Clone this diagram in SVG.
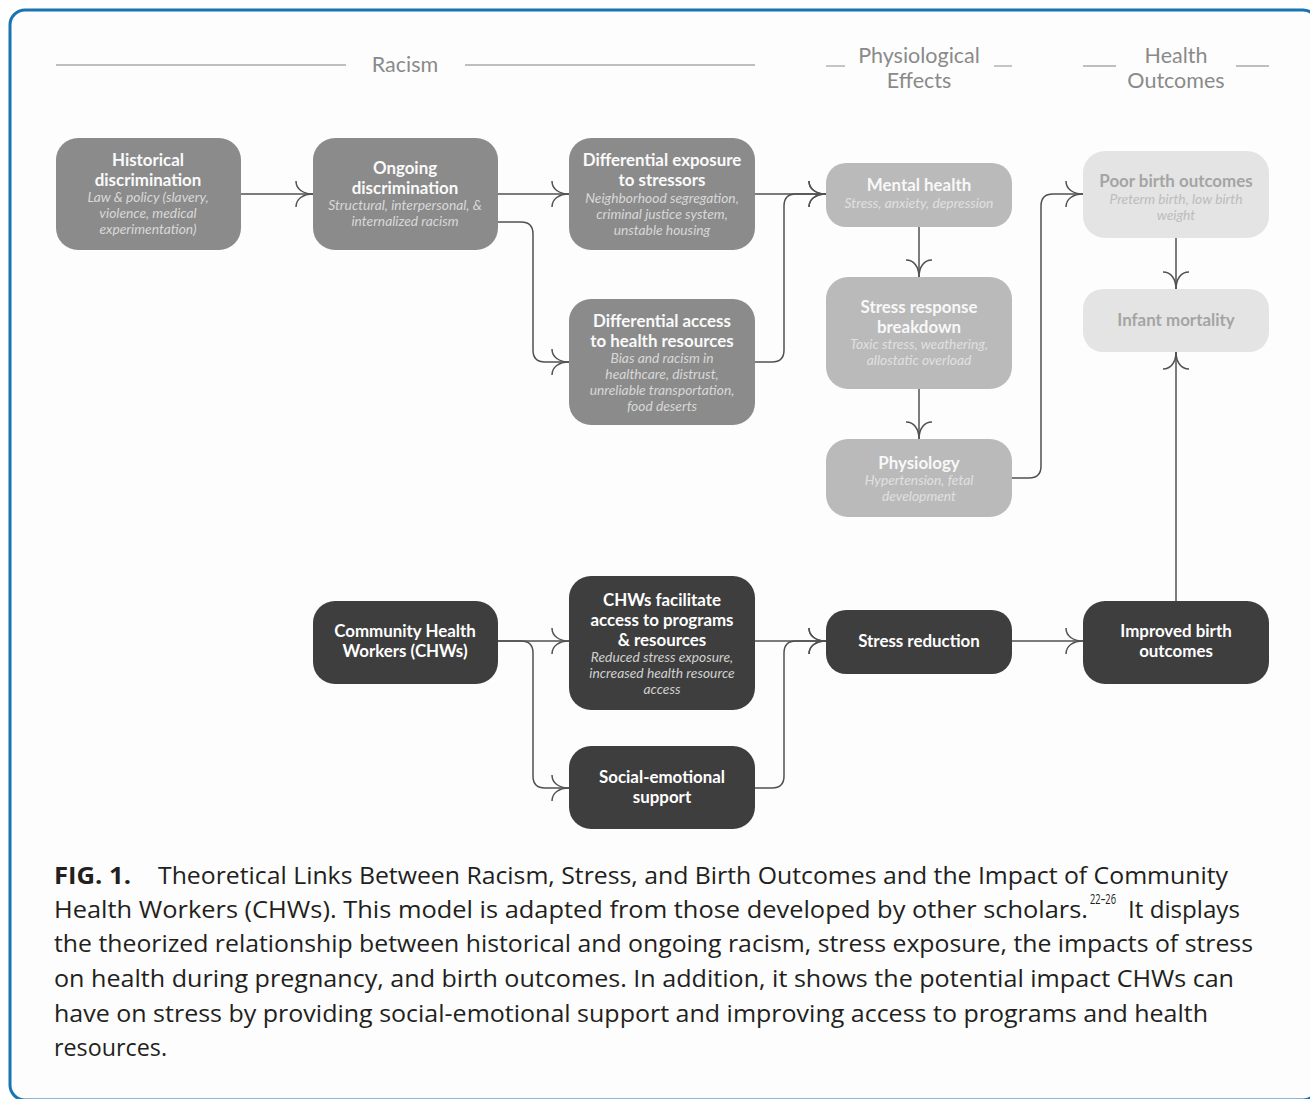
<svg xmlns="http://www.w3.org/2000/svg" width="1310" height="1099" viewBox="0 0 1310 1099">
<style>
.t{font-family:Lato,"Noto Sans",sans-serif;font-weight:700;font-size:16.9px;text-anchor:middle}
.s{font-family:Lato,"Noto Sans",sans-serif;font-style:italic;font-size:13.8px;text-anchor:middle}
.h{font-family:Lato,"Noto Sans",sans-serif;font-size:21.5px;fill:#8a8a8a;text-anchor:middle}
.hl{stroke:#a8a8a8;stroke-width:1.3}
.rac rect{fill:#8b8b8b}.rac .t{fill:#fafafa}.rac .s{fill:#d8d8d8}
.phy rect{fill:#bababa}.phy .t{fill:#f8f8f8}.phy .s{fill:#e0e0e0}
.out rect{fill:#e4e4e4}.out .t{fill:#a4a4a4}.out .s{fill:#bcbcbc}
.chw rect{fill:#3e3e3e}.chw .t{fill:#ffffff}.chw .s{fill:#d0d0d0}
.c{fill:none;stroke:#505050;stroke-width:1.5;marker-end:url(#ah)}
.cap{font-family:"Open Sans","Noto Sans",sans-serif;font-size:24px;fill:#231f20}
</style>
<defs>
<marker id="ah" markerUnits="userSpaceOnUse" viewBox="-20 -16 22 32" refX="0" refY="0" markerWidth="22" markerHeight="32" orient="auto" overflow="visible">
<path d="M-17,-13 C-17,-5 -10,0 0,0 M-17,13 C-17,5 -10,0 0,0" fill="none" stroke="#505050" stroke-width="1.5"/>
</marker>
</defs>
<rect x="0" y="0" width="1310" height="1099" fill="#ffffff"/>
<rect x="10" y="10" width="1308" height="1090" rx="15" fill="#fdfdfd" stroke="#1a74b1" stroke-width="3"/>

<g id="headers">
<line class="hl" x1="56" y1="65" x2="346" y2="65"/>
<text class="h" x="405" y="72">Racism</text>
<line class="hl" x1="465" y1="65" x2="755" y2="65"/>
<line class="hl" x1="826" y1="66" x2="845" y2="66"/>
<text class="h" x="919" y="63">Physiological</text>
<text class="h" x="919" y="88">Effects</text>
<line class="hl" x1="994" y1="66" x2="1012" y2="66"/>
<line class="hl" x1="1083" y1="66" x2="1116" y2="66"/>
<text class="h" x="1176" y="63">Health</text>
<text class="h" x="1176" y="88">Outcomes</text>
<line class="hl" x1="1236" y1="66" x2="1269" y2="66"/>
</g>

<g id="connectors">
<path class="c" d="M241,194 H313"/>
<path class="c" d="M498,194 H569"/>
<path class="c" d="M498,222 H521 Q533,222 533,234 V350 Q533,362 545,362 H569"/>
<path class="c" d="M755,194 H826"/>
<path class="c" d="M755,362 H772 Q784,362 784,350 V206 Q784,194 796,194 H826"/>
<path class="c" d="M919,227 V277"/>
<path class="c" d="M919,389 V439"/>
<path class="c" d="M1012,478 H1029 Q1041,478 1041,466 V206 Q1041,194 1053,194 H1083"/>
<path class="c" d="M1176,238 V289"/>
<path class="c" d="M1176,601 V352"/>
<path class="c" d="M498,641 H569"/>
<path class="c" d="M498,641 H521 Q533,641 533,653 V776 Q533,788 545,788 H569"/>
<path class="c" d="M755,641 H826"/>
<path class="c" d="M755,788 H772 Q784,788 784,776 V653 Q784,641 796,641 H826"/>
<path class="c" d="M1012,641 H1083"/>
</g>

<g id="historical" class="rac">
<rect x="56" y="138" width="185" height="112" rx="22"/>
<text class="t" x="148" y="166">Historical</text>
<text class="t" x="148" y="186">discrimination</text>
<text class="s" x="148" y="202">Law &amp; policy (slavery,</text>
<text class="s" x="148" y="218">violence, medical</text>
<text class="s" x="148" y="234">experimentation)</text>
</g>
<g id="ongoing" class="rac">
<rect x="313" y="138" width="185" height="112" rx="22"/>
<text class="t" x="405" y="174">Ongoing</text>
<text class="t" x="405" y="194">discrimination</text>
<text class="s" x="405" y="210">Structural, interpersonal, &amp;</text>
<text class="s" x="405" y="226">internalized racism</text>
</g>
<g id="exposure" class="rac">
<rect x="569" y="138" width="186" height="112" rx="22"/>
<text class="t" x="662" y="166">Differential exposure</text>
<text class="t" x="662" y="186">to stressors</text>
<text class="s" x="662" y="203">Neighborhood segregation,</text>
<text class="s" x="662" y="219">criminal justice system,</text>
<text class="s" x="662" y="235">unstable housing</text>
</g>
<g id="access" class="rac">
<rect x="569" y="299" width="186" height="126" rx="22"/>
<text class="t" x="662" y="327">Differential access</text>
<text class="t" x="662" y="347">to health resources</text>
<text class="s" x="662" y="363">Bias and racism in</text>
<text class="s" x="662" y="379">healthcare, distrust,</text>
<text class="s" x="662" y="395">unreliable transportation,</text>
<text class="s" x="662" y="411">food deserts</text>
</g>
<g id="mental" class="phy">
<rect x="826" y="163" width="186" height="64" rx="20"/>
<text class="t" x="919" y="191">Mental health</text>
<text class="s" x="919" y="208">Stress, anxiety, depression</text>
</g>
<g id="stressresponse" class="phy">
<rect x="826" y="277" width="186" height="112" rx="22"/>
<text class="t" x="919" y="313">Stress response</text>
<text class="t" x="919" y="333">breakdown</text>
<text class="s" x="919" y="349">Toxic stress, weathering,</text>
<text class="s" x="919" y="365">allostatic overload</text>
</g>
<g id="physiology" class="phy">
<rect x="826" y="439" width="186" height="78" rx="22"/>
<text class="t" x="919" y="469">Physiology</text>
<text class="s" x="919" y="485">Hypertension, fetal</text>
<text class="s" x="919" y="501">development</text>
</g>
<g id="poorbirth" class="out">
<rect x="1083" y="151" width="186" height="87" rx="22"/>
<text class="t" x="1176" y="187">Poor birth outcomes</text>
<text class="s" x="1176" y="204">Preterm birth, low birth</text>
<text class="s" x="1176" y="220">weight</text>
</g>
<g id="infant" class="out">
<rect x="1083" y="289" width="186" height="63" rx="20"/>
<text class="t" x="1176" y="326">Infant mortality</text>
</g>
<g id="chw" class="chw">
<rect x="313" y="601" width="185" height="83" rx="22"/>
<text class="t" x="405" y="637">Community Health</text>
<text class="t" x="405" y="657">Workers (CHWs)</text>
</g>
<g id="facilitate" class="chw">
<rect x="569" y="576" width="186" height="134" rx="22"/>
<text class="t" x="662" y="606">CHWs facilitate</text>
<text class="t" x="662" y="626">access to programs</text>
<text class="t" x="662" y="646">&amp; resources</text>
<text class="s" x="662" y="662">Reduced stress exposure,</text>
<text class="s" x="662" y="678">increased health resource</text>
<text class="s" x="662" y="694">access</text>
</g>
<g id="social" class="chw">
<rect x="569" y="746" width="186" height="83" rx="22"/>
<text class="t" x="662" y="783">Social-emotional</text>
<text class="t" x="662" y="803">support</text>
</g>
<g id="stressreduction" class="chw">
<rect x="826" y="610" width="186" height="64" rx="20"/>
<text class="t" x="919" y="647">Stress reduction</text>
</g>
<g id="improved" class="chw">
<rect x="1083" y="601" width="186" height="83" rx="22"/>
<text class="t" x="1176" y="637">Improved birth</text>
<text class="t" x="1176" y="657">outcomes</text>
</g>

<g id="caption" class="cap">
<text x="54" y="884" font-weight="700" textLength="77" lengthAdjust="spacingAndGlyphs">FIG. 1.</text>
<text x="158" y="884" textLength="1070" lengthAdjust="spacingAndGlyphs">Theoretical Links Between Racism, Stress, and Birth Outcomes and the Impact of Community</text>
<text x="54" y="918"><tspan textLength="1034" lengthAdjust="spacingAndGlyphs">Health Workers (CHWs). This model is adapted from those developed by other scholars.</tspan><tspan x="1090" y="904" font-size="14" textLength="26" lengthAdjust="spacingAndGlyphs">22–26</tspan><tspan x="1128" y="918" textLength="112" lengthAdjust="spacingAndGlyphs">It displays</tspan></text>
<text x="54" y="952" textLength="1199" lengthAdjust="spacingAndGlyphs">the theorized relationship between historical and ongoing racism, stress exposure, the impacts of stress</text>
<text x="54" y="987" textLength="1180" lengthAdjust="spacingAndGlyphs">on health during pregnancy, and birth outcomes. In addition, it shows the potential impact CHWs can</text>
<text x="54" y="1022" textLength="1154" lengthAdjust="spacingAndGlyphs">have on stress by providing social-emotional support and improving access to programs and health</text>
<text x="54" y="1056" textLength="113" lengthAdjust="spacingAndGlyphs">resources.</text>
</g>
</svg>
